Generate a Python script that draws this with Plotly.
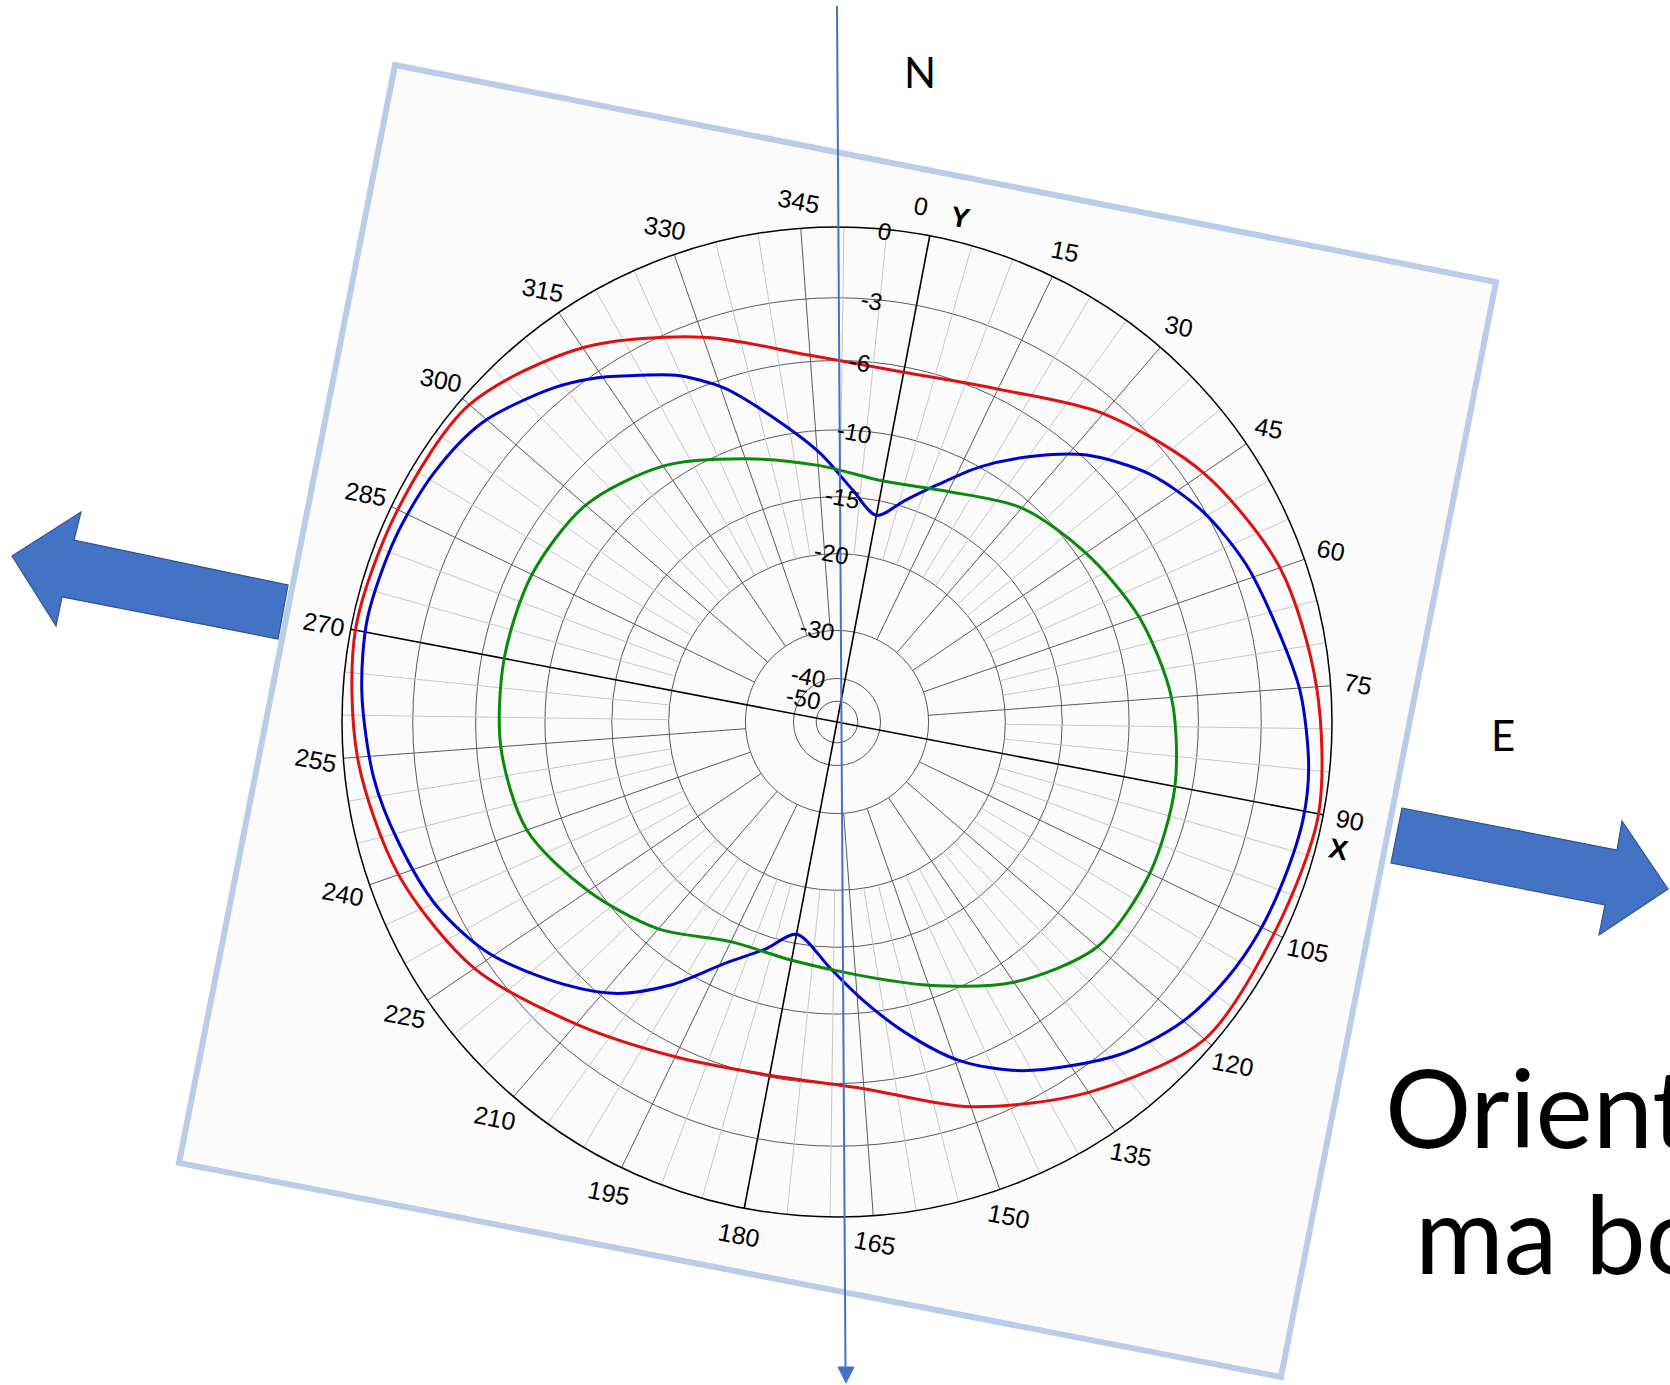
import numpy as np
import plotly.graph_objects as go

W, H = 1670, 1385

# ---- radial scale (dB -> relative radius) ----
RING_DB = [0, -3, -6, -10, -15, -20, -30, -40, -50]
RING_R = [1.0, 0.857, 0.73, 0.59, 0.455, 0.34, 0.185, 0.088, 0.042]
RING_LABELS = ["0", "-3", "-6", "-10", "-15", "-20", "-30", "-40", "-50"]

# ---- angular ticks ----
ANGLES = list(range(0, 360, 15))
ANGLE_LABELS = [str(a) for a in ANGLES]

# ---- measured patterns (dB vs azimuth) ----
THETA = list(range(0, 361, 15))
RED_DB = [-6.3, -5.6, -3.8, -2.2, -1.1, -0.6, -0.2, -0.4, -0.4, -2.0, -3.8, -5.7,
          -6.1, -5.5, -4.2, -2.4, -1.3, -0.6, -0.2, -0.3, -0.4, -1.8, -3.8, -5.7, -6.3]
GREEN_DB = [-13.5, -12.7, -10.7, -9.5, -8.4, -7.5, -7.0, -6.8, -7.0, -8.7, -11.0, -12.9,
            -13.7, -13.6, -11.4, -9.5, -7.9, -7.4, -7.3, -7.3, -7.7, -9.0, -11.0, -12.6, -13.5]
BLUE_THETA = [0, 6.3, 12.1, 18.4, 25.6, 32.3, 40.8, 49.3, 58.1, 67.2, 75.5, 84.6, 91, 98.7,
              105.8, 112.5, 120.2, 129, 141.2, 149.4, 156.8, 164, 170.7, 180, 186.5, 194.2,
              201.5, 208.2, 215.2, 225.6, 234.6, 244, 252.4, 262.8, 271.7, 282, 291, 299.3,
              308.8, 314.2, 319.5, 324.3, 330.5, 338, 345.6, 352.9, 360]
BLUE_DB = [-16.3, -14.5, -12.6, -10.0, -7.8, -5.8, -4.2, -3.1, -2.4, -1.9, -1.3, -0.9, -0.8, -0.9,
           -1.0, -1.2, -1.6, -2.5, -4.4, -6.1, -8.5, -11.0, -13.4, -15.8, -14.1, -11.9,
           -8.9, -6.7, -5.2, -3.3, -2.3, -1.7, -1.2, -0.8, -0.6, -0.7, -0.9, -1.3,
           -2.4, -3.2, -4.2, -5.0, -6.5, -9.1, -11.7, -14.4, -16.3]

TILT = 10.8                     # chart rotation, degrees clockwise
CX, CY, RAD = 837.0, 722.0, 495.0   # polar centre and radius on the page (px)


def to_r(db):
    return np.interp(db, RING_DB[::-1], RING_R[::-1])


def px(x):
    return x / W


def py(y):
    return 1 - y / H


def polar_xy(theta, rel):
    """page position of an azimuth / relative radius on the tilted chart"""
    b = np.radians(theta + TILT)
    return CX + rel * RAD * np.sin(b), CY - rel * RAD * np.cos(b)


def path(points):
    return "M " + " L ".join(f"{px(x):.5f},{py(y):.5f}" for x, y in points) + " Z"


fig = go.Figure()


# spokes: light every 5 deg, darker every 15 deg
def spokes(step, r0, skip):
    th, rr = [], []
    for a in range(0, 360, step):
        if a % skip == 0:
            continue
        th += [a, a, None]
        rr += [r0, 1.0, None]
    return th, rr


th, rr = spokes(5, RING_R[5], 15)
fig.add_trace(go.Scatterpolar(r=rr, theta=th, mode="lines",
                              line=dict(color="#c6c6c6", width=1), hoverinfo="skip"))
th, rr = spokes(15, RING_R[6], 90)
fig.add_trace(go.Scatterpolar(r=rr, theta=th, mode="lines",
                              line=dict(color="#5a5a5a", width=1), hoverinfo="skip"))
# X and Y axes
fig.add_trace(go.Scatterpolar(r=[1, 0, 1, None, 1, 0, 1], theta=[0, 0, 180, None, 270, 270, 90],
                              mode="lines", line=dict(color="#000000", width=1.6), hoverinfo="skip"))

for th_vals, vals, col in [(THETA, RED_DB, "#e01010"),
                           (BLUE_THETA, BLUE_DB, "#0000cc"),
                           (THETA, GREEN_DB, "#0a8a0a")]:
    fig.add_trace(go.Scatterpolar(r=to_r(np.array(vals)), theta=th_vals, mode="lines",
                                  line=dict(color=col, width=3, shape="spline", smoothing=0.85),
                                  hoverinfo="skip"))

fig.update_layout(
    width=W, height=H, margin=dict(l=0, r=0, t=0, b=0),
    paper_bgcolor="#ffffff", showlegend=False,
    polar=dict(
        domain=dict(x=[px(CX - RAD), px(CX + RAD)], y=[py(CY + RAD), py(CY - RAD)]),
        bgcolor="rgba(0,0,0,0)",
        angularaxis=dict(direction="clockwise", rotation=90 - TILT,
                         tickmode="array", tickvals=ANGLES, showticklabels=False,
                         ticks="", showgrid=False,
                         showline=True, linecolor="#000000", linewidth=1.5),
        radialaxis=dict(range=[0, 1], tickmode="array", tickvals=RING_R,
                        showticklabels=False, ticks="", showline=False,
                        gridcolor="#5a5a5a", gridwidth=1),
    ),
)

shapes = []
# tilted frame
frame = [(395, 65), (1496, 282), (1281, 1377), (179, 1163)]
shapes.append(dict(type="path", path=path(frame), xref="paper", yref="paper",
                   fillcolor="#fbfbfb", line=dict(color="#b9cde8", width=6), layer="below"))
# block arrows (west / east)
west = [(12, 556), (81, 512), (74, 540), (288, 585), (278, 639), (62, 597), (56, 626)]
east = [(1402, 808), (1617, 850), (1622, 821), (1668, 889), (1599, 935), (1605, 905), (1391, 863)]
for pts in (west, east):
    shapes.append(dict(type="path", path=path(pts), xref="paper", yref="paper",
                       fillcolor="#4472c4", line=dict(color="#2f528f", width=1.2), layer="above"))
# north-south reference line with arrow head
shapes.append(dict(type="line", xref="paper", yref="paper", x0=px(837), y0=py(6),
                   x1=px(845.5), y1=py(1370), line=dict(color="#4472c4", width=2), layer="above"))
shapes.append(dict(type="path", path=path([(846, 1383), (838, 1367), (854, 1367)]),
                   xref="paper", yref="paper", fillcolor="#4472c4",
                   line=dict(color="#4472c4", width=1), layer="above"))
fig.update_layout(shapes=shapes)


def label(x, y, text, size, family="Liberation Sans", angle=0, anchor="center"):
    return dict(x=px(x), y=py(y), xref="paper", yref="paper", text=text, showarrow=False,
                xanchor=anchor, yanchor="middle", textangle=angle,
                font=dict(family=family, size=size, color="#000000"))


ann = []
# azimuth labels around the rim (the 0 is nudged aside for the Y letter)
for a, lbl in zip(ANGLES, ANGLE_LABELS):
    x, y = polar_xy(a - 1.5 if a == 0 else a, 1.056)
    ann.append(label(x, y, lbl, 25, angle=TILT))
x, y = polar_xy(3.0, 1.05)
ann.append(label(x, y, "<b>Y</b>", 28, angle=TILT))
x, y = polar_xy(93.5, 1.046)
ann.append(label(x, y, "<b>X</b>", 28, angle=TILT))

# radial scale labels, just left of the 0-degree axis
t = np.radians(TILT)
ux, uy = -np.cos(t), -np.sin(t)      # perpendicular (left of axis)
vx, vy = np.sin(t), -np.cos(t)       # outward along axis
for r, lbl in zip(RING_R, RING_LABELS):
    p = 45 if len(lbl) <= 2 else 37
    x = CX + vx * r * RAD + ux * p - vx * 4
    y = CY + vy * r * RAD + uy * p - vy * 4
    ann.append(label(x, y, lbl, 24, angle=TILT))

# compass letters and caption
ann.append(label(920, 72, "N", 42, family="Lato"))
ann.append(label(1503, 735, "E", 42, family="Lato"))
ann.append(label(1383, 1106, "Orientation", 108, family="Lato", anchor="left"))
ann.append(label(1413, 1232, "ma boucle", 108, family="Lato", anchor="left"))
fig.update_layout(annotations=ann)

fig.write_html("out.html")
